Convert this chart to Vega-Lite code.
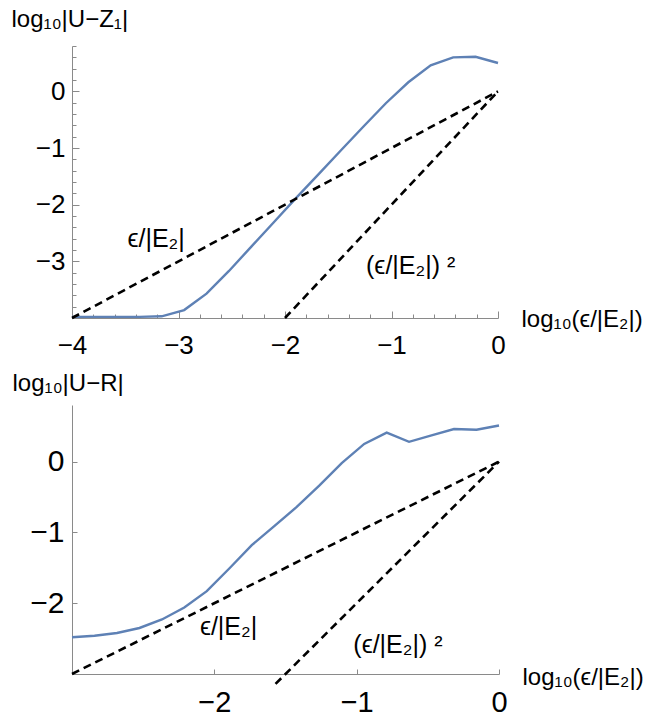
{
  "$schema": "https://vega.github.io/schema/vega-lite/v6.json",
  "padding": {"left": 11, "top": 7, "right": 0, "bottom": 0},
  "spacing": 13,
  "config": {
    "view": {"stroke": null},
    "font": "Liberation Sans",
    "axis": {"grid": false, "domainColor": "#8a8a8a", "tickColor": "#8a8a8a", "labelColor": "black", "titleColor": "black", "titleFontWeight": "normal", "labelFlush": false, "labelOverlap": false, "labelFont": "Liberation Sans", "titleFont": "Liberation Sans"}
  },
  "datasets": {
    "top_curve": [
      {"x": -4, "y": -3.98}, {"x": -3.789, "y": -3.98}, {"x": -3.579, "y": -3.98}, {"x": -3.368, "y": -3.98},
      {"x": -3.158, "y": -3.97}, {"x": -2.947, "y": -3.86}, {"x": -2.737, "y": -3.57}, {"x": -2.526, "y": -3.17},
      {"x": -2.316, "y": -2.74}, {"x": -2.105, "y": -2.31}, {"x": -1.895, "y": -1.88}, {"x": -1.684, "y": -1.46},
      {"x": -1.474, "y": -1.04}, {"x": -1.263, "y": -0.62}, {"x": -1.053, "y": -0.21}, {"x": -0.842, "y": 0.16},
      {"x": -0.632, "y": 0.46}, {"x": -0.421, "y": 0.6}, {"x": -0.211, "y": 0.61}, {"x": 0, "y": 0.5}
    ],
    "top_guides": [
      {"line": "eps", "x": -4, "y": -4}, {"line": "eps", "x": 0, "y": 0},
      {"line": "eps2", "x": -2, "y": -4}, {"line": "eps2", "x": 0, "y": 0}
    ],
    "top_labels": [
      {"x": -3.21, "y": -2.6, "text": "ϵ/|E₂|"},
      {"x": -0.82, "y": -3.08, "text": "(ϵ/|E₂|) ²"}
    ],
    "bottom_curve": [
      {"x": -3, "y": -2.48}, {"x": -2.842, "y": -2.46}, {"x": -2.684, "y": -2.42}, {"x": -2.526, "y": -2.35},
      {"x": -2.368, "y": -2.23}, {"x": -2.211, "y": -2.06}, {"x": -2.053, "y": -1.83}, {"x": -1.895, "y": -1.51},
      {"x": -1.737, "y": -1.18}, {"x": -1.579, "y": -0.91}, {"x": -1.421, "y": -0.64}, {"x": -1.263, "y": -0.34},
      {"x": -1.105, "y": -0.02}, {"x": -0.947, "y": 0.25}, {"x": -0.789, "y": 0.41}, {"x": -0.632, "y": 0.28},
      {"x": -0.474, "y": 0.37}, {"x": -0.316, "y": 0.46}, {"x": -0.158, "y": 0.45}, {"x": 0, "y": 0.51}
    ],
    "bottom_guides": [
      {"line": "eps", "x": -3, "y": -3}, {"line": "eps", "x": 0, "y": 0},
      {"line": "eps2", "x": -1.57, "y": -3.14}, {"line": "eps2", "x": 0, "y": 0}
    ],
    "bottom_labels": [
      {"x": -1.9, "y": -2.34, "text": "ϵ/|E₂|"},
      {"x": -0.71, "y": -2.59, "text": "(ϵ/|E₂|) ²"}
    ]
  },
  "vconcat": [
    {
      "width": 426,
      "height": 272,
      "resolve": {"axis": {"x": "independent", "y": "independent"}},
      "layer": [
        {
          "data": {"name": "top_curve"},
          "mark": {"type": "line", "opacity": 0},
          "encoding": {
            "x": {"field": "x", "type": "quantitative", "scale": {"domain": [-4, 0], "nice": false, "zero": false},
              "axis": {"orient": "bottom", "values": [-3.8, -3.6, -3.4, -3.2, -2.8, -2.6, -2.4, -2.2, -1.8, -1.6, -1.4, -1.2, -0.8, -0.6, -0.4, -0.2], "labels": false, "domain": false, "tickSize": -4, "title": null}},
            "y": {"field": "y", "type": "quantitative", "scale": {"domain": [-4, 0.8], "nice": false, "zero": false},
              "axis": {"orient": "left", "values": [-3.8, -3.6, -3.4, -3.2, -2.8, -2.6, -2.4, -2.2, -1.8, -1.6, -1.4, -1.2, -0.8, -0.6, -0.4, -0.2, 0.2, 0.4, 0.6, 0.8], "labels": false, "domain": false, "tickSize": -4, "title": null}}
          }
        },
        {
          "data": {"name": "top_curve"},
          "mark": {"type": "line", "color": "#5E81B5", "strokeWidth": 2.4},
          "encoding": {
            "x": {"field": "x", "type": "quantitative",
              "axis": {"orient": "bottom", "values": [-4, -3, -2, -1, 0], "format": "d", "tickSize": -7, "labelPadding": 21, "labelFontSize": 26,
                "title": "log₁₀(ϵ/|E₂|)", "titleFontSize": 24, "titleX": 449, "titleY": 1, "titleAlign": "left", "titleBaseline": "middle", "titleAnchor": "start"}},
            "y": {"field": "y", "type": "quantitative",
              "axis": {"orient": "left", "values": [-3, -2, -1, 0], "format": "d", "tickSize": -7, "labelPadding": 14, "labelFontSize": 26,
                "title": "log₁₀|U−Z₁|", "titleFontSize": 24, "titleAngle": 0, "titleX": -61, "titleY": -27, "titleAlign": "left", "titleBaseline": "middle", "titleAnchor": "start"}}
          }
        },
        {
          "data": {"name": "top_guides"},
          "mark": {"type": "line", "color": "black", "strokeWidth": 2.6, "strokeDash": [8, 5]},
          "encoding": {
            "x": {"field": "x", "type": "quantitative", "axis": null},
            "y": {"field": "y", "type": "quantitative", "axis": null},
            "detail": {"field": "line"}
          }
        },
        {
          "data": {"name": "top_labels"},
          "mark": {"type": "text", "fontSize": 25, "color": "black", "align": "center", "baseline": "middle"},
          "encoding": {
            "x": {"field": "x", "type": "quantitative", "axis": null},
            "y": {"field": "y", "type": "quantitative", "axis": null},
            "text": {"field": "text"}
          }
        }
      ]
    },
    {
      "width": 427,
      "height": 269,
      "layer": [
        {
          "data": {"name": "bottom_curve"},
          "mark": {"type": "line", "color": "#5E81B5", "strokeWidth": 2.4},
          "encoding": {
            "x": {"field": "x", "type": "quantitative", "scale": {"domain": [-3, 0], "nice": false, "zero": false},
              "axis": {"orient": "bottom", "values": [-2, -1, 0], "format": "d", "tickSize": -5, "labelPadding": 19, "labelFontSize": 29,
                "title": "log₁₀(ϵ/|E₂|)", "titleFontSize": 24, "titleX": 450, "titleY": 3, "titleAlign": "left", "titleBaseline": "middle", "titleAnchor": "start"}},
            "y": {"field": "y", "type": "quantitative", "scale": {"domain": [-3, 0.8], "nice": false, "zero": false},
              "axis": {"orient": "left", "values": [-2, -1, 0], "format": "d", "tickSize": -5, "labelPadding": 13, "labelFontSize": 30,
                "title": "log₁₀|U−R|", "titleFontSize": 24, "titleAngle": 0, "titleX": -60, "titleY": -22, "titleAlign": "left", "titleBaseline": "middle", "titleAnchor": "start"}}
          }
        },
        {
          "data": {"name": "bottom_guides"},
          "mark": {"type": "line", "color": "black", "strokeWidth": 2.6, "strokeDash": [8, 5]},
          "encoding": {
            "x": {"field": "x", "type": "quantitative"},
            "y": {"field": "y", "type": "quantitative"},
            "detail": {"field": "line"}
          }
        },
        {
          "data": {"name": "bottom_labels"},
          "mark": {"type": "text", "fontSize": 25, "color": "black", "align": "center", "baseline": "middle"},
          "encoding": {
            "x": {"field": "x", "type": "quantitative"},
            "y": {"field": "y", "type": "quantitative"},
            "text": {"field": "text"}
          }
        }
      ]
    }
  ]
}
